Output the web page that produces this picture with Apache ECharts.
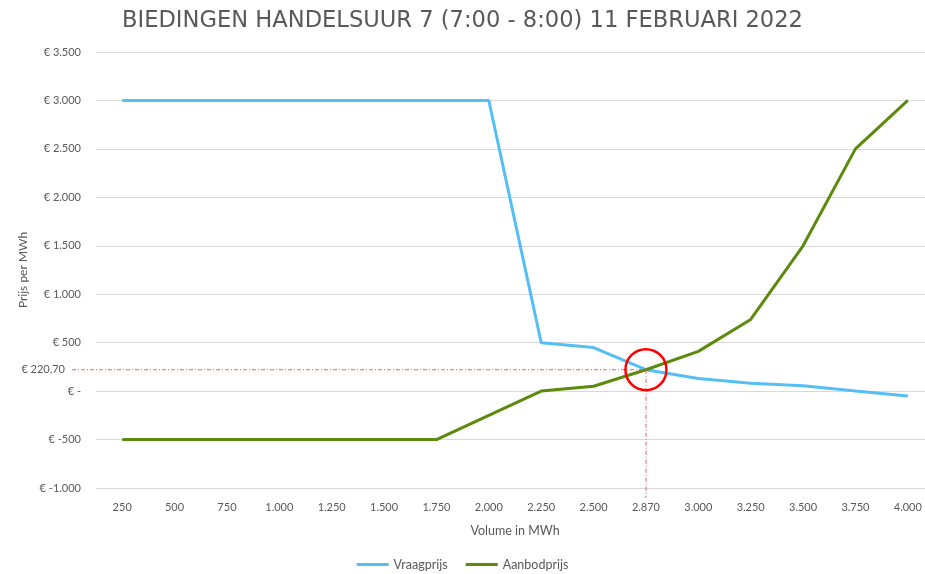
<!DOCTYPE html>
<html>
<head>
<meta charset="utf-8">
<script src="https://cdn.jsdelivr.net/npm/echarts@6/dist/echarts.min.js"></script>
<style>html,body{margin:0;padding:0;background:#fff}#c{width:925px;height:574px}</style>
</head>
<body>
<div id="c"></div>
<script>
var categories = ['250','500','750','1.000','1.250','1.500','1.750','2.000','2.250','2.500','2.870','3.000','3.250','3.500','3.750','4.000'];
var vraagprijs = [3000,3000,3000,3000,3000,3000,3000,3000,500,450,220.7,130,80,55,0,-50];
var aanbodprijs = [-500,-500,-500,-500,-500,-500,-500,-250,0,50,220.7,410,740,1500,2500,3000];
var evenwichtCategorie = '2.870';
var evenwichtPrijs = 220.7;
var evenwichtLabel = '€ 220,70';
var titel = 'BIEDINGEN HANDELSUUR 7 (7:00 - 8:00) 11 FEBRUARI 2022';

function fmt(v){
  if (v === 0) return '€ -';
  var neg = v < 0; var a = Math.abs(v);
  var s = String(a).replace(/\B(?=(\d{3})+(?!\d))/g, '.');
  return '€ ' + (neg ? '-' : '') + s;
}
var font = 'Lato, "Open Sans", sans-serif';
var chart = echarts.init(document.getElementById('c'));
chart.setOption({
  animation: false,
  title: { text: titel, left: 'center', top: 5,
    textStyle: { fontFamily: '"DejaVu Sans", sans-serif', fontSize: 22.6, fontWeight: 'normal', color: '#595959' } },
  grid: { left: 96, top: 52, right: -9, bottom: 86, containLabel: false, outerBoundsMode: 'none' },
  legend: { bottom: -2, left: 'center', itemWidth: 32, itemHeight: 3, itemGap: 18, icon: 'rect',
    textStyle: { fontFamily: font, fontSize: 12.5, color: '#595959' },
    data: ['Vraagprijs','Aanbodprijs'] },
  xAxis: { type: 'category', data: categories, boundaryGap: true,
    name: 'Volume in MWh', nameLocation: 'middle', nameGap: 36,
    nameTextStyle: { fontFamily: font, fontSize: 12.5, color: '#595959' },
    axisLine: { show: false }, axisTick: { show: false },
    axisLabel: { fontFamily: font, fontSize: 11, color: '#595959', margin: 14 } },
  yAxis: { type: 'value', min: -1000, max: 3500, interval: 500,
    name: 'Prijs per MWh', nameLocation: 'middle', nameGap: 63,
    nameTextStyle: { fontFamily: font, fontSize: 12, color: '#595959' },
    axisLine: { show: false }, axisTick: { show: false },
    splitLine: { lineStyle: { color: '#d9d9d9', width: 1 } },
    axisLabel: { fontFamily: font, fontSize: 11, color: '#595959', margin: 15, formatter: fmt } },
  series: [
    { name: 'Vraagprijs', type: 'line', data: vraagprijs, showSymbol: false, symbol: 'none',
      lineStyle: { color: '#55BEF5', width: 3 }, itemStyle: { color: '#55BEF5' }, z: 3 },
    { name: 'Aanbodprijs', type: 'line', data: aanbodprijs, showSymbol: false, symbol: 'none',
      lineStyle: { color: '#5B8A0C', width: 3 }, itemStyle: { color: '#5B8A0C' }, z: 4 }
  ]
});
var p = chart.convertToPixel({ gridIndex: 0 }, [evenwichtCategorie, evenwichtPrijs]);
var bottomY = chart.convertToPixel({ gridIndex: 0 }, [evenwichtCategorie, -1000])[1];
var dash = [4, 2, 1, 2];
chart.setOption({
  graphic: [
    { type: 'line', shape: { x1: 72, y1: p[1], x2: p[0], y2: p[1] }, z: 10,
      style: { stroke: '#FF5A5A', lineWidth: 1, lineDash: dash } },
    { type: 'line', shape: { x1: p[0], y1: p[1], x2: p[0], y2: bottomY + 10 }, z: 10,
      style: { stroke: '#FF5A5A', lineWidth: 1, lineDash: dash } },
    { type: 'circle', shape: { cx: p[0], cy: p[1], r: 20.5 }, z: 11,
      style: { fill: 'none', stroke: '#FF0000', lineWidth: 2.5 } },
    { type: 'text', x: 65, y: p[1], z: 11,
      style: { text: evenwichtLabel, align: 'right', verticalAlign: 'middle',
        font: '11px ' + font, fill: '#595959' } }
  ]
});
</script>
</body>
</html>
